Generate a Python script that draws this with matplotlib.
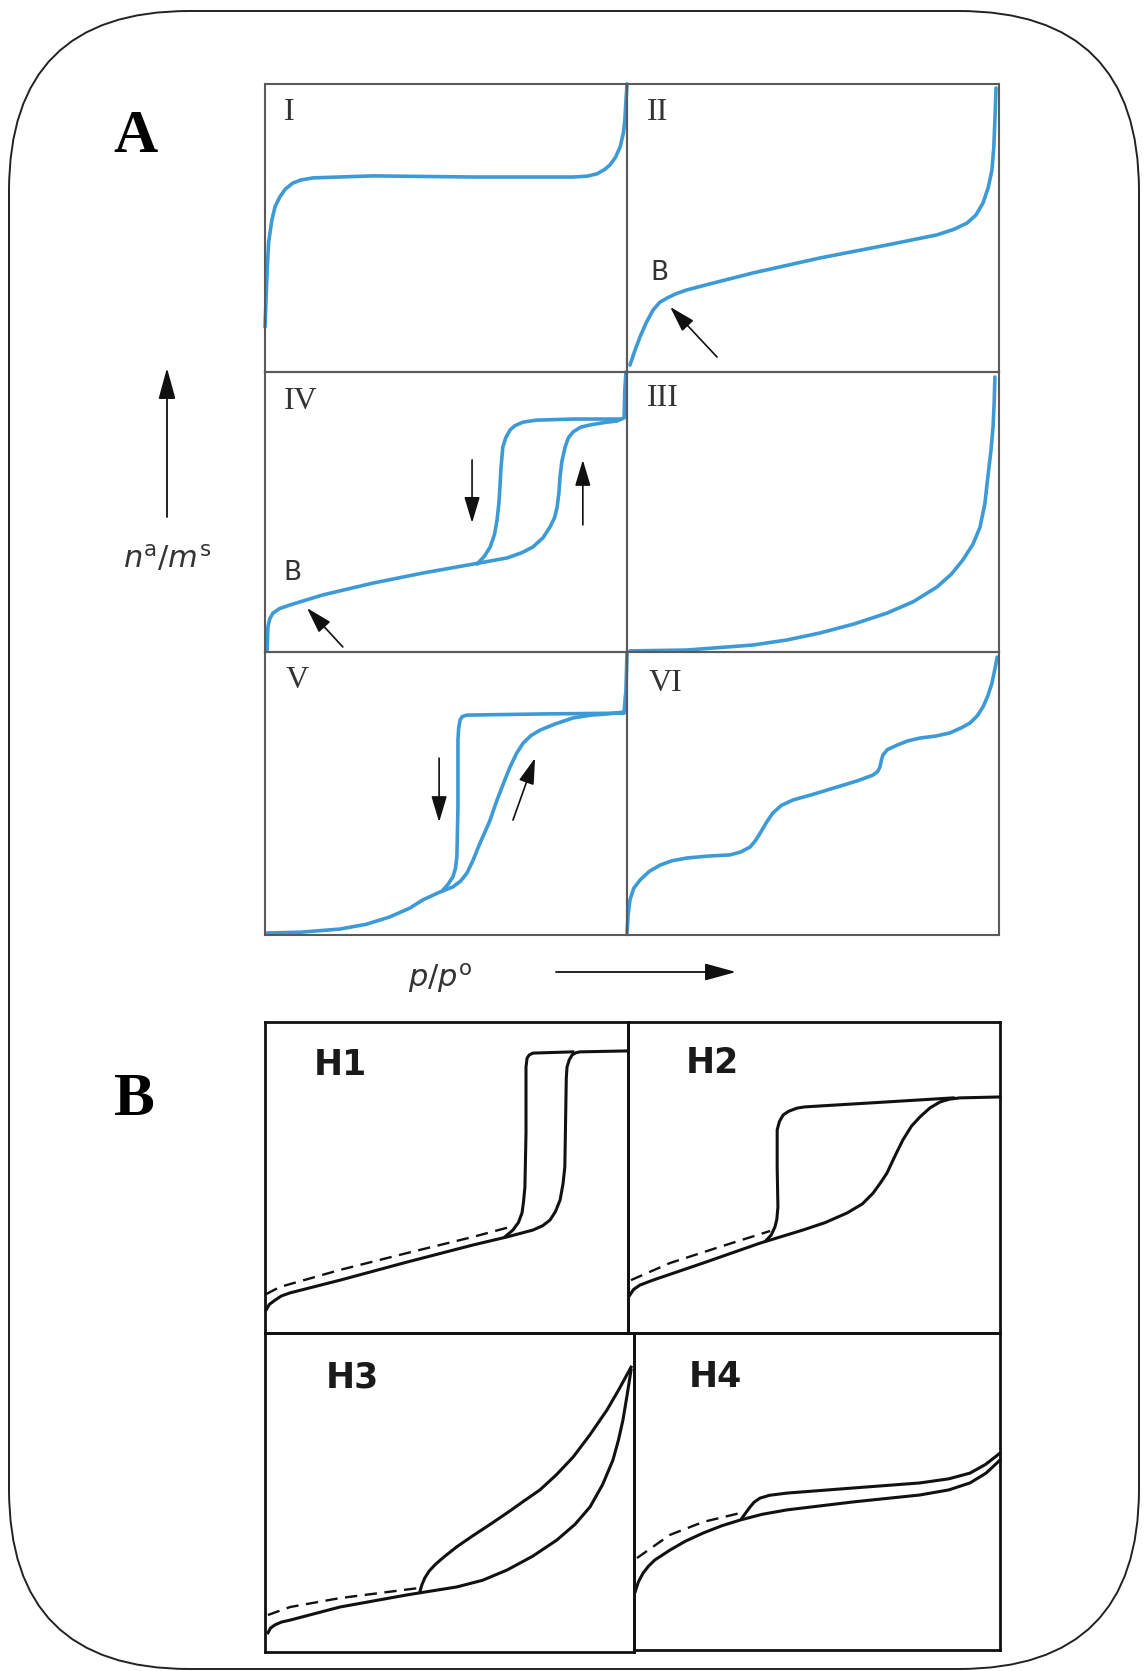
import matplotlib
matplotlib.use('Agg')
import matplotlib.pyplot as plt
from matplotlib.patches import FancyBboxPatch

# sketch of the IUPAC physisorption isotherm types (A) and hysteresis loops (B)
W, H = 1145, 1671
BLUE = '#3c9ad6'

# ---- A : isotherm shapes, x = p/p0 (0-1), y = amount adsorbed (0-1) ----
I_x = [0.0, 0.006, 0.010, 0.019, 0.028, 0.041, 0.056, 0.077, 0.10, 0.133, 0.298, 0.575, 0.851,
       0.89, 0.917, 0.938, 0.953, 0.968, 0.981, 0.99, 0.994, 0.997, 1.0]
I_y = [0.156, 0.354, 0.45, 0.528, 0.575, 0.608, 0.635, 0.656, 0.667, 0.674, 0.681, 0.677, 0.677,
       0.680, 0.688, 0.703, 0.719, 0.745, 0.781, 0.83, 0.875, 0.94, 1.0]

II_x = [0.008, 0.02, 0.035, 0.052, 0.070, 0.088, 0.108, 0.132, 0.161, 0.22, 0.339, 0.519, 0.699,
        0.833, 0.878, 0.914, 0.938, 0.957, 0.971, 0.981, 0.986, 0.989, 0.992]
II_y = [0.024, 0.07, 0.122, 0.172, 0.215, 0.242, 0.257, 0.272, 0.285, 0.305, 0.344, 0.396, 0.441,
        0.476, 0.495, 0.517, 0.545, 0.587, 0.64, 0.701, 0.78, 0.875, 0.986]

III_x = [0.008, 0.161, 0.339, 0.43, 0.519, 0.61, 0.699, 0.77, 0.833, 0.872, 0.903, 0.93, 0.949,
         0.962, 0.970, 0.978, 0.984, 0.987, 0.989]
III_y = [0.004, 0.007, 0.025, 0.043, 0.068, 0.100, 0.139, 0.180, 0.232, 0.278, 0.329, 0.385, 0.446,
         0.53, 0.625, 0.715, 0.804, 0.89, 0.982]

IV_ads_x = [0.006, 0.007, 0.008, 0.013, 0.022, 0.04, 0.069, 0.160, 0.298, 0.436, 0.575, 0.669, 0.71,
            0.740, 0.768, 0.787, 0.80, 0.807, 0.812, 0.815, 0.820, 0.829, 0.838, 0.851, 0.872,
            0.898, 0.94, 0.972, 0.992, 0.994, 0.997]
IV_ads_y = [0.007, 0.05, 0.089, 0.118, 0.139, 0.155, 0.168, 0.204, 0.246, 0.282, 0.314, 0.336, 0.355,
            0.375, 0.408, 0.446, 0.48, 0.518, 0.57, 0.625, 0.68, 0.732, 0.765, 0.786, 0.803,
            0.811, 0.82, 0.825, 0.836, 0.936, 1.0]
IV_des_x = [0.981, 0.851, 0.75, 0.713, 0.690, 0.677, 0.665, 0.657, 0.652, 0.649, 0.646, 0.641,
            0.634, 0.622, 0.606, 0.586]
IV_des_y = [0.832, 0.832, 0.828, 0.821, 0.808, 0.793, 0.765, 0.732, 0.66, 0.589, 0.53, 0.471,
            0.42, 0.375, 0.342, 0.314]

V_ads_x = [0.006, 0.1, 0.207, 0.28, 0.345, 0.40, 0.436, 0.48, 0.519, 0.540, 0.558, 0.575, 0.594,
           0.62, 0.641, 0.66, 0.677, 0.695, 0.713, 0.735, 0.760, 0.80, 0.851, 0.90, 0.945, 0.992,
           0.997, 1.0]
V_ads_y = [0.007, 0.010, 0.021, 0.038, 0.064, 0.095, 0.124, 0.15, 0.170, 0.19, 0.219, 0.265, 0.325,
           0.40, 0.477, 0.54, 0.594, 0.642, 0.678, 0.705, 0.724, 0.745, 0.767, 0.777, 0.781, 0.788,
           0.866, 0.996]
V_des_x = [0.992, 0.760, 0.558, 0.545, 0.539, 0.535, 0.533, 0.533, 0.531, 0.530, 0.526, 0.519,
           0.505, 0.490]
V_des_y = [0.784, 0.781, 0.777, 0.772, 0.760, 0.73, 0.689, 0.452, 0.33, 0.276, 0.235, 0.205,
           0.178, 0.156]

VI_x = [0.0, 0.003, 0.008, 0.018, 0.035, 0.06, 0.089, 0.12, 0.161, 0.22, 0.277, 0.305, 0.331, 0.345,
        0.358, 0.375, 0.392, 0.415, 0.446, 0.50, 0.565, 0.62, 0.661, 0.674, 0.680, 0.684, 0.688,
        0.70, 0.726, 0.755, 0.788, 0.83, 0.868, 0.90, 0.922, 0.942, 0.957, 0.970, 0.981, 0.989, 0.995]
VI_y = [0.007, 0.07, 0.124, 0.165, 0.194, 0.225, 0.247, 0.262, 0.272, 0.279, 0.283, 0.293, 0.311,
        0.333, 0.360, 0.398, 0.431, 0.458, 0.477, 0.497, 0.523, 0.545, 0.565, 0.578, 0.594, 0.618,
        0.636, 0.655, 0.671, 0.686, 0.696, 0.703, 0.714, 0.733, 0.749, 0.775, 0.806, 0.845, 0.890,
        0.94, 0.982]

# ---- B : hysteresis loops (adsorption, desorption, dashed low-pressure branch) ----
H1_ads_x = [0.003, 0.012, 0.028, 0.045, 0.069, 0.207, 0.391, 0.573, 0.667, 0.738, 0.765, 0.785,
            0.80, 0.813, 0.821, 0.826, 0.829, 0.830, 0.832, 0.838, 0.846, 0.856, 0.868, 0.997]
H1_ads_y = [0.074, 0.092, 0.106, 0.119, 0.129, 0.170, 0.228, 0.283, 0.309, 0.331, 0.345, 0.363,
            0.39, 0.428, 0.48, 0.534, 0.749, 0.82, 0.855, 0.878, 0.894, 0.901, 0.904, 0.907]
H1_des_x = [0.848, 0.738, 0.728, 0.722, 0.719, 0.719, 0.716, 0.712, 0.708, 0.698, 0.683, 0.661]
H1_des_y = [0.904, 0.900, 0.894, 0.884, 0.855, 0.643, 0.469, 0.42, 0.386, 0.355, 0.331, 0.309]
H1_dash_x = [0.003, 0.041, 0.207, 0.391, 0.573, 0.675]
H1_dash_y = [0.125, 0.148, 0.203, 0.257, 0.309, 0.341]

H2_ads_x = [0.005, 0.015, 0.032, 0.067, 0.202, 0.355, 0.470, 0.53, 0.589, 0.63, 0.659, 0.68, 0.696,
            0.718, 0.739, 0.762, 0.785, 0.812, 0.839, 0.865, 0.892, 1.0]
H2_ads_y = [0.122, 0.14, 0.154, 0.170, 0.225, 0.289, 0.331, 0.355, 0.386, 0.415, 0.450, 0.485,
            0.514, 0.57, 0.621, 0.665, 0.695, 0.724, 0.743, 0.752, 0.756, 0.759]
H2_des_x = [0.874, 0.696, 0.516, 0.475, 0.454, 0.432, 0.417, 0.407, 0.401, 0.401, 0.403, 0.40,
            0.395, 0.385, 0.370]
H2_des_y = [0.756, 0.743, 0.730, 0.727, 0.723, 0.713, 0.701, 0.68, 0.653, 0.534, 0.405, 0.365,
            0.341, 0.315, 0.296]
H2_dash_x = [0.008, 0.113, 0.247, 0.382]
H2_dash_y = [0.170, 0.225, 0.277, 0.328]

H3_ads_x = [0.008, 0.015, 0.027, 0.045, 0.068, 0.203, 0.385, 0.520, 0.59, 0.656, 0.725, 0.791, 0.84,
            0.881, 0.915, 0.943, 0.958, 0.970, 0.982, 0.992]
H3_ads_y = [0.060, 0.075, 0.085, 0.094, 0.100, 0.141, 0.179, 0.204, 0.225, 0.257, 0.300, 0.351,
            0.400, 0.455, 0.525, 0.602, 0.665, 0.727, 0.81, 0.884]
H3_des_x = [0.992, 0.96, 0.927, 0.88, 0.835, 0.79, 0.745, 0.70, 0.656, 0.61, 0.564, 0.52, 0.485,
            0.462, 0.445, 0.433, 0.425, 0.420]
H3_des_y = [0.893, 0.825, 0.759, 0.68, 0.611, 0.556, 0.508, 0.472, 0.436, 0.40, 0.365, 0.33, 0.298,
            0.275, 0.254, 0.232, 0.210, 0.190]
H3_dash_x = [0.008, 0.068, 0.203, 0.420]
H3_dash_y = [0.116, 0.141, 0.169, 0.201]

H4_ads_x = [0.003, 0.012, 0.025, 0.04, 0.057, 0.098, 0.14, 0.189, 0.24, 0.290, 0.35, 0.418, 0.598,
            0.781, 0.86, 0.918, 0.962, 1.0]
H4_ads_y = [0.183, 0.215, 0.243, 0.265, 0.284, 0.315, 0.343, 0.369, 0.392, 0.410, 0.428, 0.442,
            0.467, 0.489, 0.505, 0.527, 0.558, 0.599]
H4_des_x = [1.0, 0.96, 0.918, 0.86, 0.781, 0.598, 0.418, 0.37, 0.344, 0.328, 0.317, 0.305, 0.295]
H4_des_y = [0.621, 0.585, 0.558, 0.540, 0.527, 0.511, 0.495, 0.488, 0.479, 0.466, 0.451, 0.432, 0.416]
H4_dash_x = [0.008, 0.098, 0.189, 0.290]
H4_dash_y = [0.290, 0.363, 0.404, 0.432]

fig = plt.figure(figsize=(W / 100, H / 100), dpi=100)

# full-figure layer in pixel units for the frame, letters and axis arrows
base = fig.add_axes([0, 0, 1, 1])
base.set_xlim(0, W)
base.set_ylim(H, 0)
base.axis('off')
base.add_patch(FancyBboxPatch((9, 11), 1130, 1658, boxstyle='round,pad=0,rounding_size=180',
                              fc='none', ec='#222222', lw=1.4))
base.text(135, 137, 'A', family='Liberation Serif', weight='bold', fontsize=44, ha='center', va='center')
base.text(134, 1100, 'B', family='Liberation Serif', weight='bold', fontsize=44, ha='center', va='center')
big_head = '-|>,head_length=0.8,head_width=0.22'
base.annotate('', xy=(167, 368), xytext=(167, 517),
              arrowprops=dict(arrowstyle=big_head, color='#111111', lw=1.3, mutation_scale=24,
                              shrinkA=0, shrinkB=0))
base.annotate('', xy=(736, 972), xytext=(556, 972),
              arrowprops=dict(arrowstyle=big_head, color='#111111', lw=1.3, mutation_scale=24,
                              shrinkA=0, shrinkB=0))
base.text(167, 558, r'$n^{\mathrm{a}}/m^{\mathrm{s}}$', fontsize=22, color='#333333', ha='center', va='center')
base.text(440, 978, r'$p/p^{\mathrm{o}}$', fontsize=22, color='#333333', ha='center', va='center')


def panel(x0, y0, x1, y1, edge, lw):
    ax = fig.add_axes([x0 / W, 1 - y1 / H, (x1 - x0) / W, (y1 - y0) / H])
    ax.set_xlim(0, 1)
    ax.set_ylim(0, 1)
    ax.set_xticks([])
    ax.set_yticks([])
    ax.patch.set_alpha(0)
    for s in ax.spines.values():
        s.set_color(edge)
        s.set_linewidth(lw)
    return ax


def small_arrow(ax, start, tip):
    ax.annotate('', xy=tip, xytext=start,
                arrowprops=dict(arrowstyle='-|>,head_length=0.8,head_width=0.24', color='#111111',
                                lw=1.2, mutation_scale=20, shrinkA=0, shrinkB=0))


def roman(ax, x, y, s):
    ax.text(x, y, s, transform=ax.transAxes, family='Liberation Serif', fontsize=23,
            color='#333333', ha='left', va='center')


def blue(ax, x, y):
    ax.plot(x, y, color=BLUE, lw=2.6, solid_joinstyle='round', solid_capstyle='round', clip_on=False)


AE = '#5a5a5a'
ax1 = panel(265, 84, 627, 372, AE, 1.5)
blue(ax1, I_x, I_y)
roman(ax1, 0.052, 0.90, 'I')

ax2 = panel(627, 84, 999, 372, AE, 1.5)
blue(ax2, II_x, II_y)
roman(ax2, 0.054, 0.90, 'II')
ax2.text(0.062, 0.344, 'B', transform=ax2.transAxes, fontsize=19, color='#333333', va='center')
small_arrow(ax2, (0.242, 0.052), (0.116, 0.226))

ax4 = panel(265, 372, 627, 652, AE, 1.5)
blue(ax4, IV_ads_x, IV_ads_y)
blue(ax4, IV_des_x, IV_des_y)
roman(ax4, 0.052, 0.893, 'IV')
ax4.text(0.050, 0.282, 'B', transform=ax4.transAxes, fontsize=19, color='#333333', va='center')
small_arrow(ax4, (0.215, 0.018), (0.116, 0.157))
small_arrow(ax4, (0.572, 0.686), (0.572, 0.461))
small_arrow(ax4, (0.878, 0.454), (0.878, 0.686))

ax3 = panel(627, 372, 999, 652, AE, 1.5)
blue(ax3, III_x, III_y)
roman(ax3, 0.054, 0.907, 'III')

ax5 = panel(265, 652, 627, 935, AE, 1.5)
blue(ax5, V_ads_x, V_ads_y)
blue(ax5, V_des_x, V_des_y)
roman(ax5, 0.058, 0.901, 'V')
small_arrow(ax5, (0.481, 0.625), (0.481, 0.399))
small_arrow(ax5, (0.685, 0.406), (0.746, 0.625))

ax6 = panel(627, 652, 999, 935, AE, 1.5)
blue(ax6, VI_x, VI_y)
roman(ax6, 0.058, 0.890, 'VI')

# hysteresis loop panels
loops = [
    ((265, 1022, 628, 1333), 'H1', (0.207, 0.862),
     (H1_ads_x, H1_ads_y), (H1_des_x, H1_des_y), (H1_dash_x, H1_dash_y)),
    ((628, 1022, 1000, 1333), 'H2', (0.228, 0.868),
     (H2_ads_x, H2_ads_y), (H2_des_x, H2_des_y), (H2_dash_x, H2_dash_y)),
    ((265, 1333, 634, 1652), 'H3', (0.236, 0.859),
     (H3_ads_x, H3_ads_y), (H3_des_x, H3_des_y), (H3_dash_x, H3_dash_y)),
    ((634, 1333, 1000, 1650), 'H4', (0.221, 0.861),
     (H4_ads_x, H4_ads_y), (H4_des_x, H4_des_y), (H4_dash_x, H4_dash_y)),
]
for rect, name, lab, ads, des, dash in loops:
    ax = panel(*rect, '#111111', 2.0)
    ax.plot(*ads, color='#111111', lw=2.2, solid_joinstyle='round', clip_on=False)
    ax.plot(*des, color='#111111', lw=2.2, solid_joinstyle='round', clip_on=False)
    ax.plot(*dash, color='#111111', lw=1.7, dashes=(5.2, 3.2), clip_on=False)
    ax.text(lab[0], lab[1], name, transform=ax.transAxes, fontsize=25, weight='bold',
            color='#1a1a1a', ha='center', va='center')

fig.savefig('out.png', dpi=100, facecolor='white')
